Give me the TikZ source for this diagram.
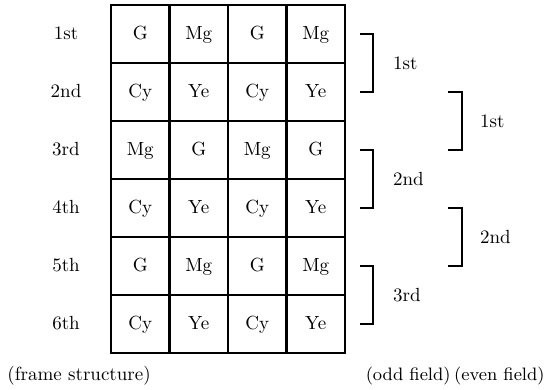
\documentclass[tikz,border=0pt]{standalone}
\begin{document}
\begin{tikzpicture}[x=.5pt,y=-.5pt,font=\fontsize{9.5}{11}\selectfont,
cell/.style={draw,line width=1.2pt,minimum width=29.25pt,minimum height=29pt,inner sep=0pt,text height=1.6ex,text depth=.3ex},
brk/.style={line width=1pt}]
\useasboundingbox(0,0)rectangle(546,390);
\foreach\r/\lab/\a/\b in{1/1st/G/Mg,2/2nd/Cy/Ye,3/3rd/Mg/G,4/4th/Cy/Ye,5/5th/G/Mg,6/6th/Cy/Ye}{
\node[text height=1.6ex,text depth=.3ex](l\r)at(66,{5+58*\r-29}){\lab};
\foreach\c/\t in{1/\a,2/\b,3/\a,4/\b}{
\node[cell](c\r\c)at({111+58.5*\c-29.25},{5+58*\r-29}){\t};}}
% odd field
\foreach\i/\p/\q/\lab in{1/1/2/1st,2/3/4/2nd,3/5/6/3rd}{
\draw[brk](360,0|-c\p1)-|(373,0|-c\q1)--(360,0|-c\q1);
\node[anchor=west](of\i)at(386,{5+58*\p}){\lab};}
% even field
\foreach\i/\p/\q/\lab in{1/2/3/1st,2/4/5/2nd}{
\draw[brk](448,0|-c\p1)-|(462,0|-c\q1)--(448,0|-c\q1);
\node[anchor=west](ef\i)at(473,{5+58*\p}){\lab};}
\node[anchor=west,inner sep=0pt](fs)at(7,376){(frame structure)};
\node[anchor=east,inner sep=0pt,font=\fontsize{9}{11}\selectfont](odd)at(451,376){(odd field)};
\node[anchor=east,inner sep=0pt,font=\fontsize{9}{11}\selectfont](even)at(545,376){(even field)};
\end{tikzpicture}
\end{document}
